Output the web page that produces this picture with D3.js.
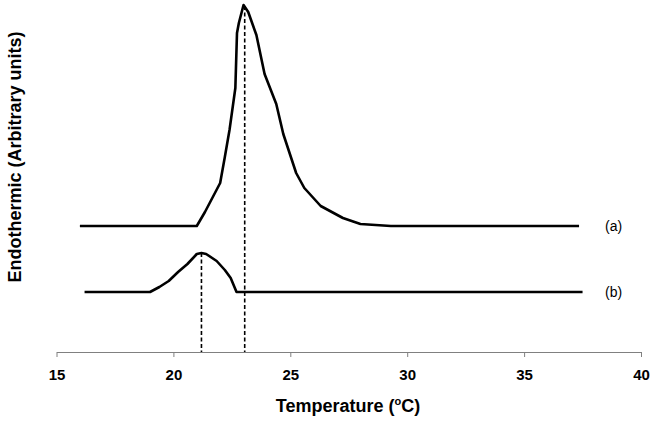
<!DOCTYPE html>
<html>
<head>
<meta charset="utf-8">
<script src="https://cdn.jsdelivr.net/npm/d3@7"></script>
<style>
  body { margin: 0; background: #fff; }
  svg { display: block; font-family: Arial, "Liberation Sans", sans-serif; }
  .curve { fill: none; stroke: #000; stroke-width: 2.6; stroke-linejoin: round; }
  .peak { stroke: #000; stroke-width: 1.6; stroke-dasharray: 4,2.5; }
  .axis path, .axis line { stroke: #808080; stroke-width: 1; }
  .axis text { font-size: 15px; font-weight: bold; fill: #000; }
</style>
</head>
<body>
<div id="js_chart"></div>
<script>

//////////////////////////////////////////////////////////////////////////////
// Data (heat flow in arbitrary units)
//

var tempA   = [16.0, 21.0, 21.35, 22.0, 22.2, 22.4, 22.65, 22.72, 22.8, 23.0, 23.2, 23.55, 23.9, 24.4, 24.7, 25.25, 25.6, 26.3, 27.25, 28.0, 29.3, 37.35];
var signalA = [12.6, 12.6, 14.0, 16.9, 19.5, 22.2, 26.4, 31.9, 32.9, 34.7, 34.0, 31.7, 27.8, 24.8, 21.8, 17.9, 16.4, 14.6, 13.4, 12.8, 12.6, 12.6];

var tempB   = [16.2, 19.0, 19.4, 19.8, 20.2, 20.6, 21.0, 21.2, 21.4, 21.85, 22.2, 22.45, 22.7, 37.5];
var signalB = [6.0, 6.0, 6.5, 7.1, 8.0, 8.8, 9.8, 9.9, 9.8, 9.1, 8.2, 7.4, 6.0, 6.0];

var peakTemps  = [21.2, 23.05];
var peakLevels = [9.9, 34.6];

var curveNames = ["(a)", "(b)"];
var xTicks = [15, 20, 25, 30, 35, 40];

//////////////////////////////////////////////////////////////////////////////
// Drawing
//

var width = 654, height = 425;

var svg = d3.select("#js_chart").append("svg")
  .attr("width", width)
  .attr("height", height);

var x = d3.scaleLinear().domain([15, 40]).range([56.5, 641]);
var y = d3.scaleLinear().domain([0, 35.2]).range([352, 0]);

// x axis, ticks pointing down
var xAxis = svg.append("g")
  .attr("class", "axis")
  .attr("transform", "translate(0," + y(0) + ")")
  .call(d3.axisBottom(x).tickValues(xTicks).tickSize(5).tickSizeOuter(0));

xAxis.selectAll("text").attr("dy", 0).attr("y", 27.5);

// dashed peak markers go behind the curves
svg.selectAll("line.peak")
  .data(peakTemps)
  .enter().append("line")
  .attr("class", "peak")
  .attr("x1", function (d) { return x(d); })
  .attr("x2", function (d) { return x(d); })
  .attr("y1", function (d, i) { return y(peakLevels[i]); })
  .attr("y2", y(0));

var line = d3.line()
  .x(function (d) { return x(d[0]); })
  .y(function (d) { return y(d[1]); });

var curves = [d3.zip(tempA, signalA), d3.zip(tempB, signalB)];

svg.selectAll("path.curve")
  .data(curves)
  .enter().append("path")
  .attr("class", "curve")
  .attr("d", line);

// curve labels at the right end of each baseline
svg.selectAll("text.name")
  .data(curves)
  .enter().append("text")
  .attr("class", "name")
  .attr("x", 605)
  .attr("y", function (d) { return y(d[d.length - 1][1]) + 5; })
  .style("font-size", "14px")
  .text(function (d, i) { return curveNames[i]; });

// axis titles
var xTitle = svg.append("text")
  .attr("x", 348)
  .attr("y", 412)
  .attr("text-anchor", "middle")
  .style("font-size", "18px")
  .style("font-weight", "bold");

xTitle.append("tspan").text("Temperature (");
xTitle.append("tspan").attr("dy", -7).style("font-size", "11px").text("o");
xTitle.append("tspan").attr("dy", 7).text("C)");

svg.append("text")
  .attr("transform", "translate(21,157) rotate(-90)")
  .attr("text-anchor", "middle")
  .style("font-size", "18px")
  .style("font-weight", "bold")
  .text("Endothermic (Arbitrary units)");

</script>
</body>
</html>
